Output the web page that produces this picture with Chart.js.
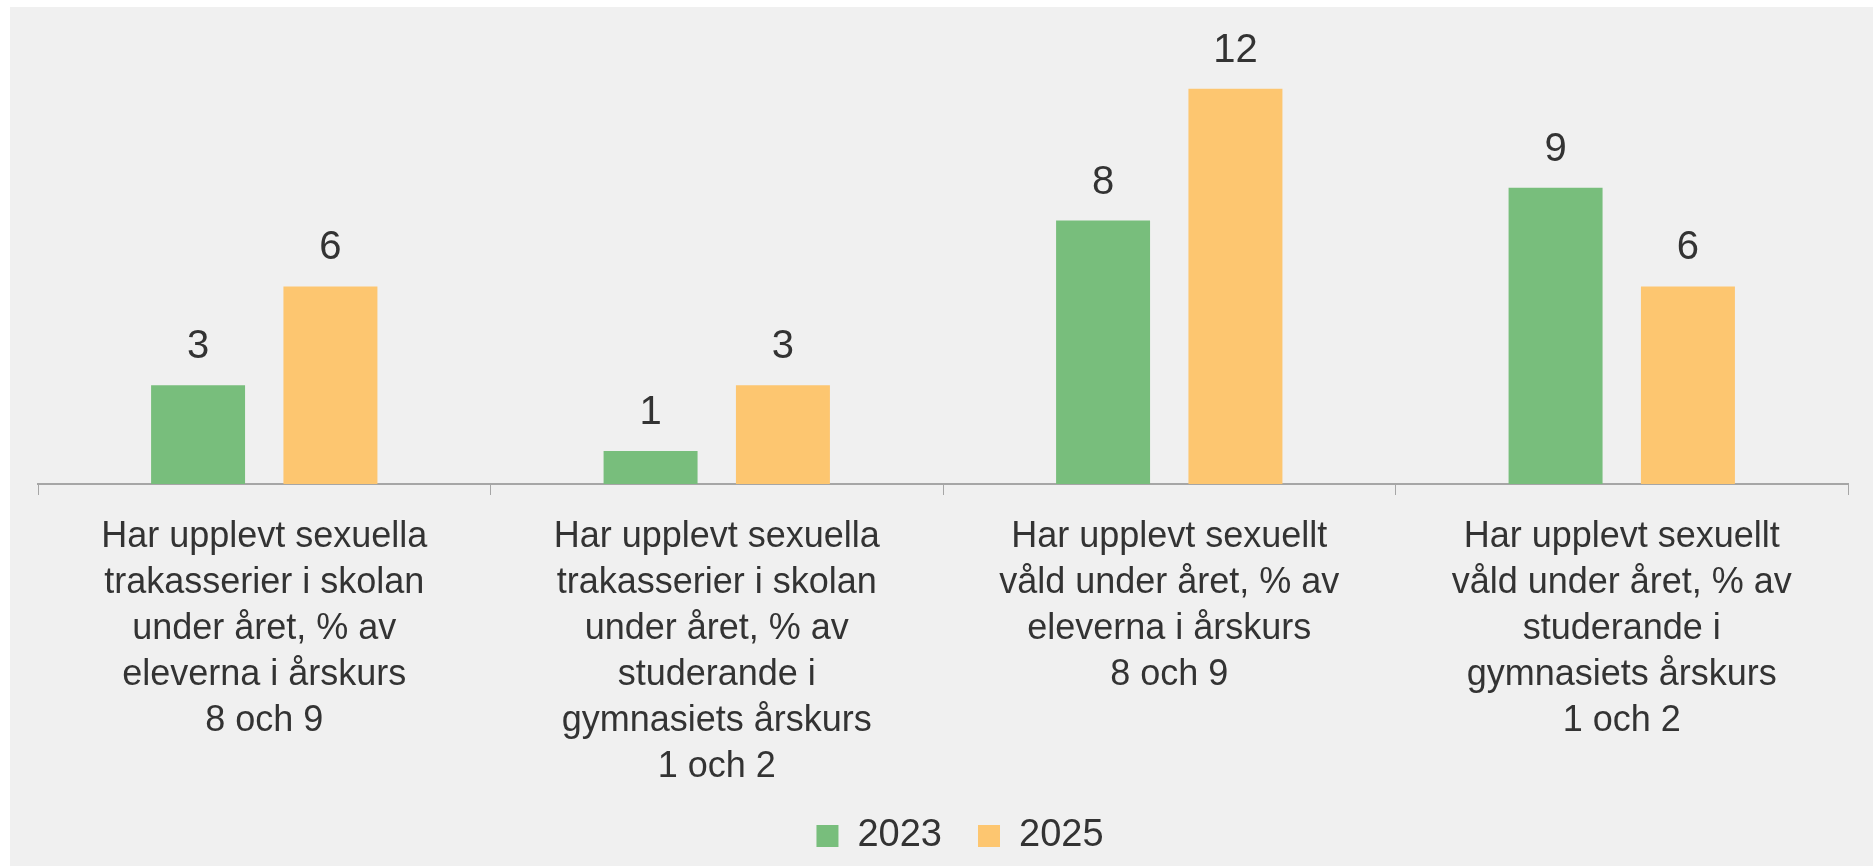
<!DOCTYPE html>
<html>
<head>
<meta charset="utf-8">
<script src="https://cdn.jsdelivr.net/npm/chart.js@4/dist/chart.umd.min.js"></script>
<style>
  html, body { margin: 0; padding: 0; background: #ffffff; }
  #wrap { position: absolute; left: 10px; top: 7px; width: 1863px; height: 859px; background: #f0f0f0; }
</style>
</head>
<body>
<div id="wrap"><canvas id="grafica" width="1863" height="859"></canvas></div>
<script>
// kategorier (flera rader per etikett)
const kategorier = [
  ["Har upplevt sexuella", "trakasserier i skolan", "under året, % av", "eleverna i årskurs", "8 och 9"],
  ["Har upplevt sexuella", "trakasserier i skolan", "under året, % av", "studerande i", "gymnasiets årskurs", "1 och 2"],
  ["Har upplevt sexuellt", "våld under året, % av", "eleverna i årskurs", "8 och 9"],
  ["Har upplevt sexuellt", "våld under året, % av", "studerande i", "gymnasiets årskurs", "1 och 2"]
];
const serier = ["2023", "2025"];
const varden2023 = [3, 1, 8, 9];
const varden2025 = [6, 3, 12, 6];

const fontFamily = '"Liberation Sans", Arial, sans-serif';
const textFarg = '#333333';

// egna etiketter ovanför staplarna
const stapelEtiketter = {
  id: 'stapelEtiketter',
  afterLayout(chart) {
    // legenden sitter lite till höger om mitten i originalet
    chart.legend.left += 17;
    chart.legend.right += 17;
  },
  afterDatasetsDraw(chart) {
    const ctx = chart.ctx;
    ctx.save();
    ctx.font = '40px ' + fontFamily;
    ctx.fillStyle = textFarg;
    ctx.textAlign = 'center';
    ctx.textBaseline = 'middle';
    chart.data.datasets.forEach((ds, i) => {
      chart.getDatasetMeta(i).data.forEach((bar, j) => {
        ctx.fillText(String(ds.data[j]), bar.x, bar.y - 38);
      });
    });
    ctx.restore();
  }
};

const myChart = new Chart(document.getElementById('grafica'), {
  type: 'bar',
  data: {
    labels: kategorier,
    datasets: [
      {
        label: serier[0],
        data: varden2023,
        backgroundColor: '#78be7c',
        categoryPercentage: 0.585,
        barPercentage: 0.71
      },
      {
        label: serier[1],
        data: varden2025,
        backgroundColor: '#fdc670',
        categoryPercentage: 0.585,
        barPercentage: 0.71
      }
    ]
  },
  options: {
    responsive: false,
    animation: false,
    layout: { padding: { left: 28, right: 25, top: 16, bottom: 1 } },
    plugins: {
      tooltip: { enabled: false },
      legend: {
        position: 'bottom',
        labels: {
          boxWidth: 22,
          boxHeight: 22,
          padding: 36,
          color: textFarg,
          font: { family: fontFamily, size: 38 }
        }
      }
    },
    scales: {
      x: {
        grid: {
          display: true,
          drawOnChartArea: false,
          drawTicks: true,
          tickLength: 11,
          color: '#a6a6a6',
          offset: true
        },
        border: { display: true, color: '#a6a6a6', width: 2 },
        ticks: {
          color: textFarg,
          padding: 19,
          maxRotation: 0,
          autoSkip: false,
          font: { family: fontFamily, size: 36, lineHeight: 1.28 }
        },
        afterFit(scale) {
          scale.height = 297;
        }
      },
      y: {
        display: false,
        beginAtZero: true,
        min: 0,
        max: 14
      }
    }
  },
  plugins: [stapelEtiketter]
});
</script>
</body>
</html>
